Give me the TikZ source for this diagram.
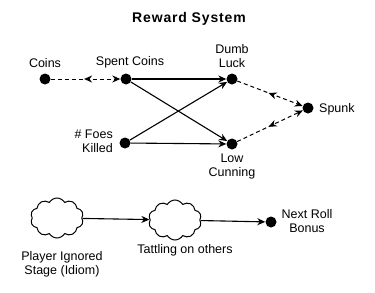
\documentclass[tikz,border=0pt]{standalone}
\usepackage{fontspec}
\setmainfont{Liberation Sans}
\usetikzlibrary{arrows.meta,shapes.symbols,decorations.markings}

\begin{document}
\begin{tikzpicture}[x=1pt,y=-1pt,
    ponto/.style={circle,fill=black,inner sep=0pt,minimum size=11pt},
    nuvem/.style={cloud,draw,line width=1pt,cloud puffs=10,cloud puff arc=120,aspect=1.3,
        minimum width=53pt,minimum height=40pt,inner sep=0pt},
    rotulo/.style={font=\fontsize{12.5}{14}\selectfont,align=center,inner sep=0pt},
    seta/.style={line width=1.1pt,-{Stealth[length=8pt,width=7pt]}},
    tracejada/.style={dash pattern=on 4pt off 3pt,line width=1pt,-{Stealth[length=8pt,width=7pt]},
        postaction={decorate},
        decoration={markings,mark=at position 0.48 with {\arrowreversed{Stealth[length=8pt,width=7pt]}}}}]
    \useasboundingbox (0,0) rectangle (375,292);

    %título
    \node (titulo) at (189,19) {\fontsize{14}{16}\bfseries\addfontfeatures{LetterSpace=6}Reward System};

    %pontos de cima
    \node[ponto] (coins) at (45,79) {};
    \node[ponto] (spent) at (126,79) {};
    \node[ponto] (foes) at (125,143) {};
    \node[ponto] (luck) at (232,79) {};
    \node[ponto] (cunning) at (232,144) {};
    \node[ponto] (spunk) at (308,108) {};

    \node[rotulo] (tcoins) at (45,63) {Coins};
    \node[rotulo] (tspent) at (130,62) {Spent Coins};
    \node[rotulo] (tluck) at (232,56) {Dumb\\Luck};
    \node[rotulo,anchor=west] (tspunk) at (319,109) {Spunk};
    \node[rotulo,align=right,anchor=east] (tfoes) at (113,141) {\# Foes\\Killed};
    \node[rotulo] (tcunning) at (232,166) {Low\\Cunning};

    \draw[tracejada] (coins) -- (spent);
    \draw[seta] (spent) -- (luck);
    \draw[seta] (spent) -- (cunning);
    \draw[seta] (foes) -- (luck);
    \draw[seta] (foes) -- (cunning);
    \draw[tracejada] (luck) -- (spunk);
    \draw[tracejada] (cunning) -- (spunk);

    %nuvens de baixo
    \node[nuvem] (ignored) at (57,218) {};
    \node[nuvem] (tattling) at (175,220) {};
    \node[ponto] (bonus) at (271,222) {};

    \node[rotulo] (tignored) at (62,264) {Player Ignored\\Stage (Idiom)};
    \node[rotulo] (ttattling) at (185,250) {Tattling on others};
    \node[rotulo] (tbonus) at (307,221) {Next Roll\\Bonus};

    \draw[seta] (ignored) -- (tattling);
    \draw[seta] (tattling) -- (bonus);
\end{tikzpicture}
\end{document}
